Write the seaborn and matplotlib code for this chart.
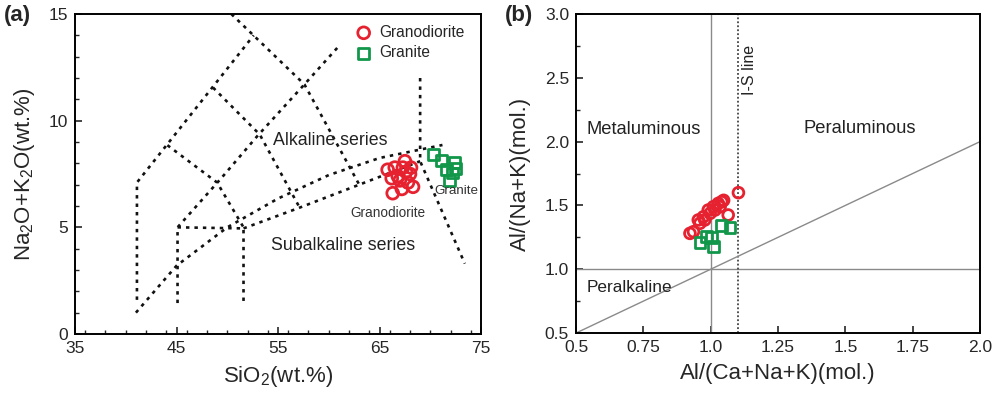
import numpy as np
import pandas as pd
import matplotlib
matplotlib.use("Agg")
import matplotlib.pyplot as plt
import seaborn as sns
from matplotlib.ticker import MultipleLocator

# ---------------- data: TAS diagram (panel a) ----------------
gd_sio2 = [65.8, 66.3, 67.2, 67.5, 68.3, 68.0, 66.8, 67.3, 66.5, 67.8, 68.1, 67.0, 67.6, 66.2]
gd_alk = [7.7, 6.6, 6.8, 8.1, 6.9, 7.5, 7.4, 7.8, 7.8, 7.1, 7.8, 7.2, 7.6, 7.3]
gr_sio2 = [70.3, 71.1, 72.4, 71.6, 72.2, 71.9, 72.5]
gr_alk = [8.4, 8.15, 8.05, 7.7, 7.55, 7.2, 7.75]

# field boundaries (dotted)
b1_x = [41.1, 41.1, 52.6]
b1_y = [1.6, 7.1, 14.0]
b2_x = [50.4, 57.6, 63.0]
b2_y = [15.0, 11.7, 7.0]
b3_x = [44.1, 49.0, 51.6]
b3_y = [8.85, 7.1, 5.0]
b4_x = [48.6, 53.2, 57.1]
b4_y = [11.55, 9.35, 5.95]
b5_x = [45.1, 45.1, 49.4, 53.0, 57.6, 61.0]
b5_y = [1.45, 5.0, 7.3, 9.3, 11.7, 13.5]
b6_x = [45.1, 51.6, 51.6]
b6_y = [5.0, 4.95, 1.45]
b7_x = [51.6, 57.0, 63.0, 69.0]
b7_y = [4.95, 5.9, 7.0, 8.1]
b8_x = [69.0, 69.0, 73.4]
b8_y = [12.0, 8.1, 3.3]
# alkaline / subalkaline dividing curve
ib_x = [41.0, 45.0, 50.0, 55.0, 60.0, 65.0, 71.2]
ib_y = [1.0, 3.2, 5.0, 6.35, 7.45, 8.25, 8.86]

# ---------------- data: A/NK vs A/CNK (panel b) ----------------
acnk_gd = [0.923, 0.936, 0.954, 0.960, 0.973, 0.978, 0.991, 0.998, 1.010,
           1.016, 1.028, 1.035, 1.041, 1.048, 1.065, 1.103]
ank_gd = [1.281, 1.294, 1.386, 1.360, 1.411, 1.386, 1.464, 1.438, 1.490,
          1.464, 1.516, 1.490, 1.529, 1.540, 1.425, 1.600]
acnk_gr = [0.960, 0.985, 1.004, 1.010, 1.041, 1.072]
ank_gr = [1.210, 1.255, 1.250, 1.180, 1.340, 1.326]

RED = "#e62230"
GREEN = "#12974a"
GRAY = "#8a8a8a"

sns.set_style("ticks")
plt.rcParams["font.family"] = ["Liberation Sans", "DejaVu Sans"]
plt.rcParams["mathtext.fontset"] = "custom"
plt.rcParams["mathtext.rm"] = "Liberation Sans"
plt.rcParams["mathtext.it"] = "Liberation Sans:italic"
plt.rcParams["xtick.direction"] = "in"
plt.rcParams["ytick.direction"] = "in"

fig = plt.figure(figsize=(10.03, 3.96), dpi=100)
ax1 = fig.add_axes([0.0748, 0.1566, 0.4048, 0.808])
ax2 = fig.add_axes([0.5743, 0.159, 0.4028, 0.8056])

dot = dict(color="#111111", lw=1.9, linestyle=(0, (1.3, 1.9)), zorder=1)
for bx, by in [(b1_x, b1_y), (b2_x, b2_y), (b3_x, b3_y), (b4_x, b4_y),
               (b5_x, b5_y), (b6_x, b6_y), (b7_x, b7_y), (b8_x, b8_y),
               (ib_x, ib_y)]:
    ax1.plot(bx, by, **dot)

sns.scatterplot(x=gd_sio2, y=gd_alk, ax=ax1, marker="o", s=72,
                facecolors="none", edgecolor=RED, linewidth=2.0,
                label="Granodiorite", zorder=3)
sns.scatterplot(x=gr_sio2, y=gr_alk, ax=ax1, marker="s", s=60,
                facecolors="none", edgecolor=GREEN, linewidth=2.0,
                label="Granite", zorder=3)

ax1.set_xlim(35, 75)
ax1.set_ylim(0, 15)
ax1.set_xticks([35, 45, 55, 65, 75])
ax1.xaxis.set_minor_locator(MultipleLocator(2))
ax1.set_yticks([0, 5, 10, 15])
ax1.yaxis.set_minor_locator(MultipleLocator(1))
ax1.set_xlabel("SiO$_2$(wt.%)", fontsize=16, labelpad=6)
ax1.set_ylabel("Na$_2$O+K$_2$O(wt.%)", fontsize=16, labelpad=8)
ax1.legend(loc="upper left", bbox_to_anchor=(0.665, 1.0), frameon=False,
           fontsize=11.2, handlelength=1.0, handletextpad=0.5,
           labelspacing=0.35, borderaxespad=0.3)

ax1.text(60.1, 9.05, "Alkaline series", fontsize=12.8, ha="center",
         va="center", color="#222222")
ax1.text(61.4, 4.17, "Subalkaline series", fontsize=12.8, ha="center",
         va="center", color="#222222")
ax1.text(65.8, 5.67, "Granodiorite", fontsize=9.8, ha="center",
         va="center", color="#333333")
ax1.text(72.6, 6.7, "Granite", fontsize=9.6, ha="center",
         va="center", color="#333333")

# panel b lines
ax2.axvline(1.0, color=GRAY, lw=1.0, zorder=1)
ax2.axhline(1.0, color=GRAY, lw=1.0, zorder=1)
ax2.axvline(1.1, color="#444444", lw=1.3, linestyle=(0, (1, 1.2)), zorder=1)
ax2.plot([0.5, 2.0], [0.5, 2.0], color=GRAY, lw=1.0, zorder=1)

sns.scatterplot(x=acnk_gd, y=ank_gd, ax=ax2, marker="o", s=60,
                facecolors="none", edgecolor=RED, linewidth=2.0, zorder=3)
sns.scatterplot(x=acnk_gr, y=ank_gr, ax=ax2, marker="s", s=60,
                facecolors="none", edgecolor=GREEN, linewidth=2.0, zorder=3)

ax2.set_xlim(0.5, 2.0)
ax2.set_ylim(0.5, 3.0)
ax2.set_xticks([0.5, 0.75, 1.0, 1.25, 1.5, 1.75, 2.0])
ax2.set_xticklabels(["0.5", "0.75", "1.0", "1.25", "1.5", "1.75", "2.0"])
ax2.set_yticks([0.5, 1.0, 1.5, 2.0, 2.5, 3.0])
ax2.set_yticklabels(["0.5", "1.0", "1.5", "2.0", "2.5", "3.0"])
ax2.yaxis.set_minor_locator(MultipleLocator(0.25))
ax2.set_xlabel("Al/(Ca+Na+K)(mol.)", fontsize=16, labelpad=6)
ax2.set_ylabel("Al/(Na+K)(mol.)", fontsize=16, labelpad=10)

ax2.text(0.75, 2.096, "Metaluminous", fontsize=13.2, ha="center",
         va="center", color="#222222")
ax2.text(1.555, 2.1, "Peraluminous", fontsize=13.2, ha="center",
         va="center", color="#222222")
ax2.text(0.697, 0.858, "Peralkaline", fontsize=12.4, ha="center",
         va="center", color="#222222")
ax2.text(1.145, 2.56, "I-S line", fontsize=11.5, ha="center", va="center",
         rotation=90, color="#222222")

for ax in (ax1, ax2):
    for sp in ax.spines.values():
        sp.set_linewidth(1.4)
        sp.set_color("black")
    ax.tick_params(which="major", length=5, width=1.2, labelsize=12.5,
                   top=False, right=False, pad=5)
    ax.tick_params(which="minor", length=3, width=1.0, top=False, right=False)

fig.text(0.004, 0.988, "(a)", fontsize=16, fontweight="bold", va="top",
         ha="left")
fig.text(0.503, 0.988, "(b)", fontsize=16, fontweight="bold", va="top",
         ha="left")

fig.savefig("out.png", dpi=100)
